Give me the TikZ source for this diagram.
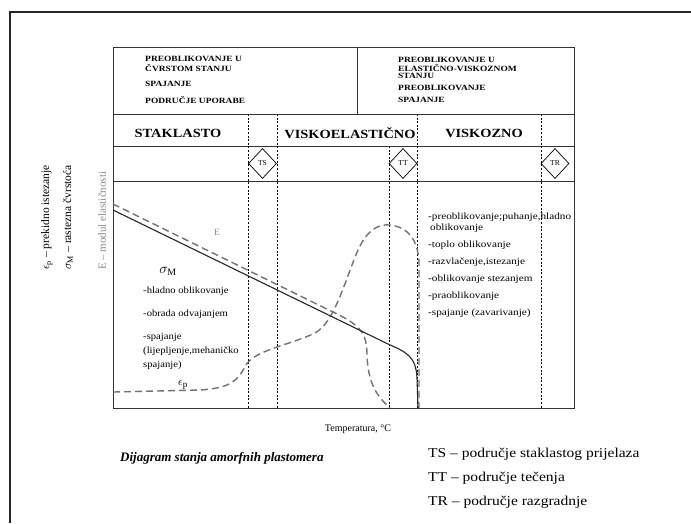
\documentclass[tikz,border=0pt]{standalone}
\usepackage{fontspec}
\setmainfont{Liberation Serif}
\usetikzlibrary{shapes.geometric}
\begin{document}
\begin{tikzpicture}[x=1pt,y=-1pt,
  outer/.style={line width=1.4pt, black!85},
  grid/.style={line width=0.7pt, black!80},
  vdash/.style={line width=0.6pt, black, dash pattern=on 2pt off 1.6pt},
  curvedash/.style={line width=1.4pt, black!55, dash pattern=on 7pt off 4pt},
  solidcurve/.style={line width=1.1pt, black!85},
  hdr/.style={font=\fontsize{8}{8}\selectfont\bfseries, anchor=west, inner sep=0pt, xscale=1.18},
  zone/.style={font=\fontsize{12.5}{12.5}\selectfont\bfseries, inner sep=0pt, xscale=1.15},
  diam/.style={diamond, draw, fill=white, line width=0.7pt, minimum width=28pt, minimum height=30pt, inner sep=0pt, font=\fontsize{7.5}{7.5}\selectfont},
  ctext/.style={font=\fontsize{9.5}{9.5}\selectfont, anchor=west, inner sep=0pt, xscale=1.12},
  rtext/.style={font=\fontsize{9.5}{9.5}\selectfont, anchor=west, inner sep=0pt, xscale=1.18},
  axlab/.style={font=\fontsize{11.5}{11.5}\selectfont, rotate=90, anchor=west, inner sep=0pt},
  legend/.style={font=\fontsize{13.5}{13.5}\selectfont, anchor=west, inner sep=0pt, xscale=1.15}
]
\useasboundingbox (0,0) rectangle (691,523);
\fill[white] (0,0) rectangle (691,523);
% outer frame
\draw[outer] (10,523) -- (10,12) -- (691,12);

% table frame
\draw[grid] (113,47) rectangle (574,408);
\draw[grid] (113,114) -- (574,114);
\draw[grid] (357,47) -- (357,114);
\draw[grid] (113,146) -- (574,146);
\draw[grid] (113,181) -- (574,181);

% vertical dotted lines
\draw[vdash] (248,114) -- (248,408);
\draw[vdash] (277,114) -- (277,408);
\draw[vdash] (389,146) -- (389,408);
\draw[vdash] (417,114) -- (417,408);
\draw[vdash] (541,114) -- (541,408);

% header texts
\node[hdr] (h1) at (145,59) {PREOBLIKOVANJE U};
\node[hdr] (h2) at (145,68) {ČVRSTOM STANJU};
\node[hdr] (h3) at (145,84) {SPAJANJE};
\node[hdr] (h4) at (145,100) {PODRUČJE UPORABE};
\node[hdr] (h5) at (398,60) {PREOBLIKOVANJE U};
\node[hdr] (h6) at (398,68) {ELASTIČNO-VISKOZNOM};
\node[hdr] (h7) at (398,76) {STANJU};
\node[hdr] (h8) at (398,88) {PREOBLIKOVANJE};
\node[hdr] (h9) at (398,100) {SPAJANJE};

% zone titles
\node[zone] (z1) at (178,133) {STAKLASTO};
\node[zone] (z2) at (350,133) {VISKOELASTIČNO};
\node[zone] (z3) at (484,133) {VISKOZNO};

% diamonds
\node[diam] (ts) at (262.5,163.5) {TS};
\node[diam] (tt) at (403,163.5) {TT};
\node[diam] (tr) at (555,163.5) {TR};

% curves
\draw[curvedash] (113,204) -- (335,313) .. controls (360,325) and (367,333) .. (367,355) .. controls (368,385) and (378,397) .. (390,408);
\draw[curvedash] (113,392) -- (200,390) .. controls (232,388) and (238,380) .. (246,365) .. controls (255,350) and (290,345) .. (315,333) .. controls (335,322) and (345,280) .. (358,250) .. controls (368,228) and (380,224) .. (390,225) .. controls (408,227) and (418,240) .. (419,262) -- (419,408);
\draw[solidcurve] (113,210) -- (388,344) .. controls (406,352) and (416,356) .. (417,378) -- (418,408);

% chart labels
\node[font=\fontsize{14}{14}\selectfont, inner sep=0pt] (sm) at (168,271) {$\sigma_{\mathrm{M}}$};
\node[font=\fontsize{9.5}{9.5}\selectfont, text=black!45, inner sep=0pt] (el) at (217,232) {E};
\node[font=\fontsize{13}{13}\selectfont, inner sep=0pt] (ep) at (183,385) {$\epsilon_{\mathrm{p}}$};

\node[ctext] (l1) at (143,291) {-hladno oblikovanje};
\node[ctext] (l2) at (143,314) {-obrada odvajanjem};
\node[ctext] (l3) at (143,337) {-spajanje};
\node[ctext] (l4) at (143,351) {(lijepljenje,mehaničko};
\node[ctext] (l5) at (143,365) {spajanje)};

\node[rtext] (r1) at (428,217) {-preoblikovanje;puhanje,hladno};
\node[rtext] (r1b) at (430,228) {oblikovanje};
\node[rtext] (r2) at (428,245) {-toplo oblikovanje};
\node[rtext] (r3) at (428,262) {-razvlačenje,istezanje};
\node[rtext] (r4) at (428,279) {-oblikovanje stezanjem};
\node[rtext] (r5) at (428,296) {-praoblikovanje};
\node[rtext] (r6) at (428,313) {-spajanje (zavarivanje)};

% axis labels
\node[axlab] (a1) at (47,270) {$\epsilon_{\mathrm{p}}$ -- prekidno istezanje};
\node[axlab] (a2) at (68,270) {$\sigma_{\mathrm{M}}$ -- rastezna čvrstoća};
\node[axlab, text=black!45, font=\fontsize{11}{11}\selectfont] (a3) at (102,270) {E -- modul elastičnosti};

\node[font=\fontsize{10}{10}\selectfont, inner sep=0pt] (temp) at (358,429) {Temperatura, °C};

% caption and legend
\node[font=\fontsize{13}{13}\selectfont\bfseries\itshape, anchor=west, inner sep=0pt] (cap) at (120,458) {Dijagram stanja amorfnih plastomera};
\node[legend] (g1) at (428,454) {TS -- područje staklastog prijelaza};
\node[legend] (g2) at (428,478) {TT -- područje tečenja};
\node[legend] (g3) at (428,502) {TR -- područje razgradnje};
\end{tikzpicture}
\end{document}
